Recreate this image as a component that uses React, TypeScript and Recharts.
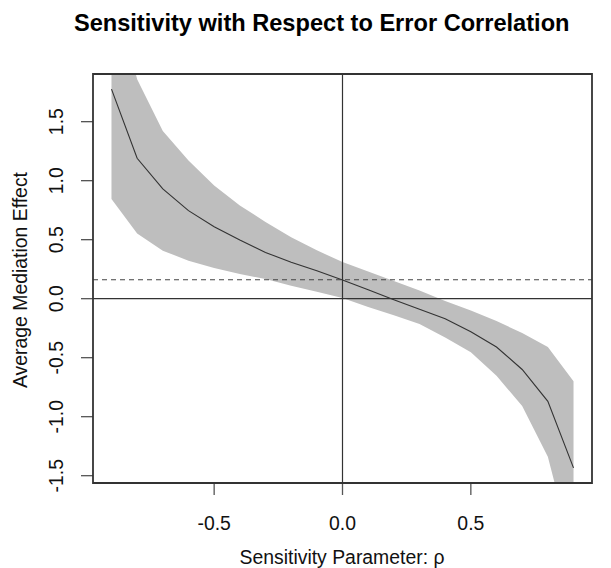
import React from 'react';
import {
  ComposedChart,
  Area,
  Line,
  XAxis,
  YAxis,
  ReferenceLine,
} from 'recharts';

// Sensitivity parameter values (rho)
const rho = [-0.9, -0.8, -0.7, -0.6, -0.5, -0.4, -0.3, -0.2, -0.1, 0, 0.1, 0.2, 0.3, 0.4, 0.5, 0.6, 0.7, 0.8, 0.9];
// Average mediation effect point estimates
const estimate = [1.776, 1.19, 0.93, 0.746, 0.61, 0.497, 0.392, 0.308, 0.237, 0.158, 0.075, -0.01, -0.09, -0.17, -0.28, -0.41, -0.6, -0.87, -1.434];
// Confidence band bounds
const lowerCI = [0.845, 0.553, 0.407, 0.322, 0.26, 0.209, 0.167, 0.11, 0.059, 0.006, -0.07, -0.14, -0.215, -0.33, -0.455, -0.653, -0.91, -1.34, -2.18];
const upperCI = [2.68, 1.86, 1.42, 1.17, 0.96, 0.79, 0.65, 0.52, 0.41, 0.31, 0.23, 0.15, 0.07, -0.02, -0.1, -0.19, -0.29, -0.41, -0.7];
// Estimated ACME at rho = 0 (dashed reference)
const acmeAtZero = 0.16;

const xTicks = [-0.5, 0, 0.5];
const yTicks = [-1.5, -1.0, -0.5, 0.0, 0.5, 1.0, 1.5];
const xDomain: [number, number] = [-0.972, 0.972];
const yDomain: [number, number] = [-1.562, 1.904];

const data = rho.map((r, i) => ({
  rho: r,
  est: estimate[i],
  band: [lowerCI[i], upperCI[i]],
}));

const FONT = '"Liberation Sans", Arial, Helvetica, sans-serif';

// plot frame geometry (layout)
const PLOT = { left: 93, top: 74, right: 592, bottom: 483 };

const XTick = (props: any) => {
  const { x, payload } = props;
  return (
    <text x={x} y={530} textAnchor="middle" fontSize={19.4} fontFamily={FONT} fill="#111">
      {Number(payload.value).toFixed(1)}
    </text>
  );
};

const YTick = (props: any) => {
  const { y, payload } = props;
  return (
    <text
      x={63}
      y={y}
      transform={`rotate(-90, 63, ${y})`}
      textAnchor="middle"
      fontSize={19.4}
      fontFamily={FONT}
      fill="#111"
    >
      {Number(payload.value).toFixed(1)}
    </text>
  );
};

export default function App() {
  return (
    <div style={{ position: 'absolute', left: 0, top: 0, width: 611, height: 568, background: '#fff' }}>
      <ComposedChart
        width={611}
        height={568}
        data={data}
        margin={{ top: PLOT.top, right: 611 - PLOT.right, bottom: 568 - PLOT.bottom - 60, left: PLOT.left - 60 }}
      >
        <XAxis
          dataKey="rho"
          type="number"
          domain={xDomain}
          ticks={xTicks}
          allowDataOverflow
          height={60}
          axisLine={false}
          tickSize={12}
          tickLine={{ stroke: '#555', strokeWidth: 1.3 }}
          tick={<XTick />}
        />
        <YAxis
          type="number"
          domain={yDomain}
          ticks={yTicks}
          allowDataOverflow
          width={60}
          axisLine={false}
          tickSize={12}
          tickLine={{ stroke: '#555', strokeWidth: 1.3 }}
          tick={<YTick />}
        />
        <Area
          dataKey="band"
          type="linear"
          fill="#bebebe"
          fillOpacity={1}
          stroke="none"
          isAnimationActive={false}
        />
        <Line
          dataKey="est"
          type="linear"
          stroke="#333"
          strokeWidth={1.1}
          dot={false}
          isAnimationActive={false}
        />
        <ReferenceLine x={0} stroke="#333" strokeWidth={1.2} />
        <ReferenceLine y={0} stroke="#333" strokeWidth={1.2} />
        <ReferenceLine y={acmeAtZero} stroke="#444" strokeWidth={1.1} strokeDasharray="5 4" />
        <ReferenceLine
          segment={[{ x: xTicks[0], y: yDomain[0] }, { x: xTicks[xTicks.length - 1], y: yDomain[0] }]}
          stroke="#333"
          strokeWidth={1.5}
          ifOverflow="visible"
        />
      </ComposedChart>
      <svg
        width={611}
        height={568}
        style={{ position: 'absolute', left: 0, top: 0, pointerEvents: 'none', zIndex: 6 }}
      >
        <path
          d={`M${PLOT.left},${PLOT.top} L${PLOT.right},${PLOT.top} L${PLOT.right},${PLOT.bottom} L${PLOT.left},${PLOT.bottom} Z`}
          fill="none"
          stroke="#333"
          strokeWidth={1.8}
        />
        <text x={321.7} y={30.7} textAnchor="middle" fontSize={23.6} fontWeight="bold" fontFamily={FONT} fill="#000">
          Sensitivity with Respect to Error Correlation
        </text>
        <text x={342} y={564} textAnchor="middle" fontSize={19.4} fontFamily={FONT} fill="#111">
          Sensitivity Parameter: ρ
        </text>
        <text
          x={26.5}
          y={280}
          transform="rotate(-90, 26.5, 280)"
          textAnchor="middle"
          fontSize={19.4}
          fontFamily={FONT}
          fill="#111"
        >
          Average Mediation Effect
        </text>
      </svg>
    </div>
  );
}
